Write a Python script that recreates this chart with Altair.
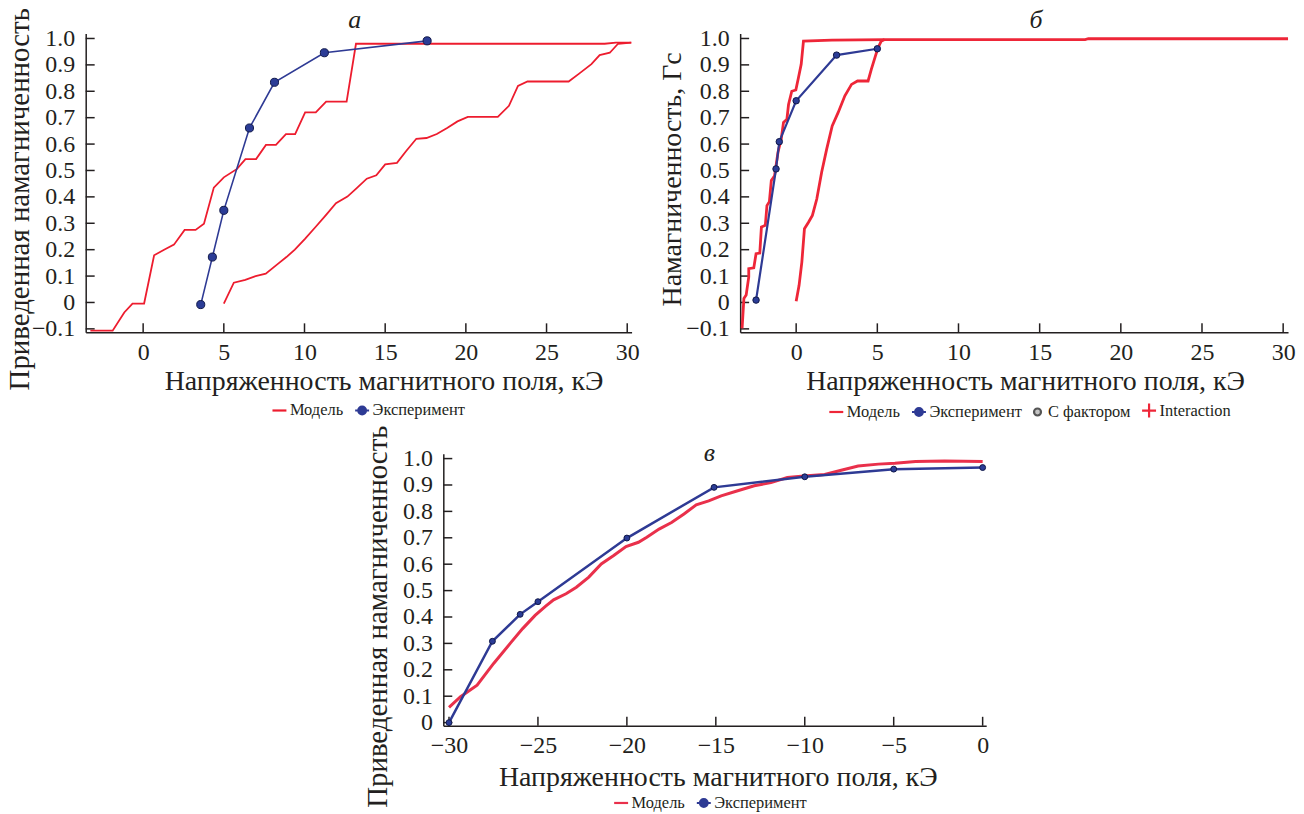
import altair as alt
import pandas as pd

# ---------------- Panel а ----------------
a_model1_x = [-3.27, -1.89, -1.17, -0.66, 0.06, 0.68, 1.30, 1.91, 2.57, 3.25, 3.77, 4.38, 5.0, 5.82, 6.34, 7.0,
              7.61, 8.23, 8.85, 9.42, 10.04, 10.7, 11.34, 12.61, 13.19, 28.6, 29.3, 30.25]
a_model1_y = [-0.107, -0.107, -0.038, -0.004, -0.004, 0.179, 0.20, 0.219, 0.275, 0.275, 0.298, 0.435, 0.474, 0.506,
              0.543, 0.543, 0.597, 0.597, 0.638, 0.638, 0.72, 0.72, 0.761, 0.761, 0.98, 0.98, 0.984, 0.984]
a_model2_x = [5.0, 5.62, 6.33, 6.97, 7.6, 8.37, 8.88, 9.4, 10.03, 10.67, 11.3, 11.95, 12.66, 13.22, 13.86, 14.45,
              15.0, 15.73, 16.29, 16.93, 17.56, 18.2, 18.84, 19.48, 20.12, 21.98, 22.67, 23.23, 23.82, 26.37, 27.0,
              27.78, 28.29, 28.92, 29.43, 30.25]
a_model2_y = [-0.004, 0.075, 0.086, 0.10, 0.109, 0.147, 0.172, 0.2, 0.241, 0.285, 0.329, 0.376, 0.401, 0.432, 0.469,
              0.482, 0.523, 0.529, 0.573, 0.62, 0.623, 0.638, 0.661, 0.686, 0.703, 0.703, 0.745, 0.82, 0.837, 0.837,
              0.866, 0.903, 0.937, 0.946, 0.98, 0.984]
a_exp_x = [3.57, 4.29, 5.0, 6.59, 8.14, 11.23, 17.6]
a_exp_y = [-0.008, 0.172, 0.349, 0.661, 0.834, 0.946, 0.991]

# ---------------- Panel б ----------------
b_model1_x = [-3.33, -3.22, -3.08, -2.92, -2.92, -2.61, -2.47, -2.24, -2.14, -1.9, -1.8, -1.65, -1.53, -1.33,
              -1.12, -0.92, -0.78, -0.57, -0.47, -0.27, -0.02, 0.14, 0.31, 0.45, 2.2, 5.5, 17.8, 18.0, 30.3]
b_model1_y = [-0.098, 0.015, 0.028, 0.097, 0.128, 0.131, 0.185, 0.187, 0.286, 0.292, 0.367, 0.382, 0.462, 0.48,
              0.569, 0.619, 0.682, 0.694, 0.75, 0.8, 0.805, 0.851, 0.902, 0.99, 0.994, 0.996, 0.996, 0.999, 0.999]
b_model2_x = [0.0, 0.18, 0.35, 0.51, 0.76, 1.0, 1.27, 1.57, 1.88, 2.22, 2.59, 3.0, 3.41, 3.78, 4.43, 4.63, 4.88,
              5.04, 5.24, 5.45]
b_model2_y = [0.005, 0.065, 0.153, 0.279, 0.304, 0.33, 0.392, 0.493, 0.581, 0.669, 0.72, 0.783, 0.826, 0.839,
              0.839, 0.883, 0.933, 0.964, 0.99, 0.996]
b_exp_x = [-2.47, -1.24, -1.04, 0.0, 2.49, 5.0]
b_exp_y = [0.009, 0.506, 0.609, 0.764, 0.937, 0.961]

# ---------------- Panel в ----------------
c_model_x = [-30.0, -29.35, -28.42, -27.49, -26.56, -25.86, -25.16, -24.58, -24.12, -23.42, -22.84, -22.14, -21.44,
             -20.74, -20.05, -19.35, -18.88, -18.19, -17.49, -16.79, -16.1, -15.4, -14.7, -13.77, -12.84, -11.9,
             -10.98, -10.05, -8.88, -7.95, -7.0, -5.86, -4.93, -3.77, -2.14, 0.0]
c_model_y = [0.058, 0.098, 0.142, 0.224, 0.3, 0.356, 0.406, 0.44, 0.465, 0.488, 0.513, 0.551, 0.601, 0.633, 0.667,
             0.683, 0.702, 0.733, 0.758, 0.79, 0.825, 0.84, 0.859, 0.878, 0.897, 0.909, 0.928, 0.934, 0.94, 0.956,
             0.972, 0.979, 0.982, 0.989, 0.991, 0.989]
c_exp_x = [-30.0, -27.56, -26.0, -25.0, -20.0, -15.1, -10.0, -5.0, 0.0]
c_exp_y = [0.0, 0.308, 0.41, 0.458, 0.699, 0.891, 0.931, 0.96, 0.966]

# ---------------- Ticks / labels ----------------
y_ticks = [-0.1, 0, 0.1, 0.2, 0.3, 0.4, 0.5, 0.6, 0.7, 0.8, 0.9, 1.0]
y_ticks_c = [0, 0.1, 0.2, 0.3, 0.4, 0.5, 0.6, 0.7, 0.8, 0.9, 1.0]
x_ticks_ab = [0, 5, 10, 15, 20, 25, 30]
x_ticks_c = [-30, -25, -20, -15, -10, -5, 0]

legend_two = ["Модель", "Эксперимент"]
legend_four = ["Модель", "Эксперимент", "С фактором", "Interaction"]

x_title = "Напряженность магнитного поля, кЭ"
y_title_norm = "Приведенная намагниченность"
y_title_b = "Намагниченность, Гс"

FONT = "Liberation Serif"
TXT = "#231f20"
BLUE = "#2e3a94"
PT_FILL = "#2b3c96"
PT_STROKE = "#101848"

SYM = {
    "Модель": "M-1,0H1",
    "Эксперимент": "M-1,0H1M0.55,0A0.55,0.55 0 1,1 -0.55,0A0.55,0.55 0 1,1 0.55,0Z",
    "С фактором": "M0.5,0A0.5,0.5 0 1,1 -0.5,0A0.5,0.5 0 1,1 0.5,0Z",
    "Interaction": "M-1,0H1M0,-1V1",
}
SYM_FILL = {"Модель": "#ed1c2e", "Эксперимент": PT_FILL, "С фактором": "#c4c4c4", "Interaction": "transparent"}
SYM_STROKE = {"Модель": "#ed1c2e", "Эксперимент": BLUE, "С фактором": "#555555", "Interaction": "#ed1c2e"}
TICK_LEN = 9


def curves_df(curves):
    rows = []
    for i, (xs, ys) in enumerate(curves):
        for j, (x, y) in enumerate(zip(xs, ys)):
            rows.append({"curve": i, "order": j, "x": x, "y": y})
    return pd.DataFrame(rows)


def make_panel(curves, ex, ey, names, x_dom, y_dom, xt, yt, width, height, letter, letter_x, letter_y,
               ytitle, yt_size, yt_x, yt_y, xt_x, xt_y, red, mw, ew, psize, leg_x, leg_y):
    xaxis = alt.Axis(values=xt, format="d", title=x_title, labelFont=FONT, labelFontSize=24, labelColor=TXT,
                     labelPadding=8, labelFlush=False, labelOverlap=False, ticks=False, tickSize=0,
                     domainColor=TXT, domainWidth=1.5, grid=False, titleFont=FONT,
                     titleFontSize=28, titleFontWeight="normal", titleColor=TXT,
                     titleX=xt_x, titleY=xt_y, titleBaseline="alphabetic", titleAlign="center")
    yaxis = alt.Axis(values=yt, labelExpr="datum.value == 0 ? '0' : format(datum.value, '.1f')",
                     title=ytitle, labelFont=FONT, labelFontSize=24, labelColor=TXT, labelPadding=11,
                     labelOverlap=False, labelFlush=False, ticks=False, tickSize=0,
                     domainColor=TXT, domainWidth=1.5, grid=False, titleFont=FONT, titleFontSize=yt_size,
                     titleFontWeight="normal", titleColor=TXT, titleX=yt_x, titleY=yt_y,
                     titleBaseline="alphabetic", titleAlign="center", titleAngle=270)
    X = alt.X("x:Q", scale=alt.Scale(domain=x_dom, nice=False, zero=False), axis=xaxis)
    Y = alt.Y("y:Q", scale=alt.Scale(domain=y_dom, nice=False, zero=False), axis=yaxis)

    # inward ticks drawn from the tick arrays through the scales
    ytick_layer = alt.Chart(pd.DataFrame({"y": yt})).mark_rule(color=TXT, strokeWidth=1.5).encode(
        y=Y, x=alt.value(0), x2=alt.value(TICK_LEN))
    xtick_layer = alt.Chart(pd.DataFrame({"x": xt})).mark_rule(color=TXT, strokeWidth=1.5).encode(
        x=X, y=alt.value(height), y2=alt.value(height - TICK_LEN))

    model = alt.Chart(curves_df(curves)).mark_line(color=red, strokeWidth=mw, interpolate="linear").encode(
        x=X, y=Y, detail="curve:N", order="order:Q")
    exp_df = pd.DataFrame({"x": ex, "y": ey, "order": list(range(len(ex)))})
    exp_line = alt.Chart(exp_df).mark_line(color=BLUE, strokeWidth=ew).encode(x=X, y=Y, order="order:Q")
    exp_pts = alt.Chart(exp_df).mark_point(filled=True, fill=PT_FILL, stroke=PT_STROKE, strokeWidth=1,
                                           size=psize, opacity=1).encode(x=X, y=Y)

    leg = alt.Legend(orient="none", legendX=leg_x, legendY=leg_y, direction="horizontal", title=None,
                     labelFont=FONT, labelFontSize=16.5, labelColor=TXT, labelOffset=2, columnPadding=7,
                     symbolSize=196, symbolStrokeWidth=2.2, symbolOpacity=1, padding=0)
    fills = dict(SYM_FILL)
    strokes = dict(SYM_STROKE)
    fills["Модель"] = red
    strokes["Модель"] = red
    strokes["Interaction"] = red
    leg_df = pd.DataFrame({"series": names, "x": [None] * len(names), "y": [None] * len(names)})
    legend_layer = alt.Chart(leg_df).mark_point(filled=True).encode(
        x=X, y=Y,
        shape=alt.Shape("series:N", scale=alt.Scale(domain=names, range=[SYM[n] for n in names]), legend=leg),
        fill=alt.Fill("series:N", scale=alt.Scale(domain=names, range=[fills[n] for n in names]), legend=leg),
        stroke=alt.Stroke("series:N", scale=alt.Scale(domain=names, range=[strokes[n] for n in names]),
                          legend=leg),
    )
    letter_layer = alt.Chart(pd.DataFrame({"t": [letter]})).mark_text(
        font=FONT, fontSize=26, fontStyle="italic", color=TXT, align="center", baseline="alphabetic").encode(
        text="t:N", x=alt.value(letter_x), y=alt.value(letter_y))
    return alt.layer(ytick_layer, xtick_layer, model, exp_line, exp_pts, legend_layer, letter_layer).properties(
        width=width, height=height)


pa = make_panel([(a_model1_x, a_model1_y), (a_model2_x, a_model2_y)], a_exp_x, a_exp_y, legend_two,
                [-3.56, 30.27], [-0.113, 1.019], x_ticks_ab, y_ticks, 548, 300, "а", 270, -5,
                y_title_norm, 29, -57, 166, 299, 57.5, "#ed1c2e", 1.8, 1.6, 66, 186, 370)
pb = make_panel([(b_model1_x, b_model1_y), (b_model2_x, b_model2_y)], b_exp_x, b_exp_y, legend_four,
                [-3.45, 30.3], [-0.113, 1.019], x_ticks_ab, y_ticks, 550, 300, "б", 297, -5,
                y_title_b, 28, -59.5, 146, 286, 57.5, "#ee2638", 2.8, 2.2, 42, 88, 370)
pc = make_panel([(c_model_x, c_model_y)], c_exp_x, c_exp_y, legend_two,
                [-30.32, 0.2], [-0.012, 1.018], x_ticks_c, y_ticks_c, 545, 273, "в", 267, 7,
                y_title_norm, 29, -57, 163, 275.5, 59.5, "#e9304b", 3.0, 2.5, 35, 170, 342)

spacer = alt.Chart(pd.DataFrame({"s": [0]})).mark_point(opacity=0).encode(
    x=alt.X("s:Q", axis=None), y=alt.Y("s:Q", axis=None)).properties(width=359, height=10)

indep = dict(shape="independent", fill="independent", stroke="independent", x="independent", y="independent")
top = alt.hconcat(pa, pb, spacing=109, bounds="flush").resolve_scale(**indep)
bottom = alt.hconcat(spacer, pc, spacing=0, bounds="flush").resolve_scale(**indep)
chart = alt.vconcat(top, bottom, spacing=422, bounds="flush").resolve_scale(**indep).properties(
    padding={"left": -3, "top": -2, "right": 0, "bottom": 0}, background="white"
).configure_view(stroke=None)

chart.save("out.html", embed_options={"renderer": "svg", "actions": False})
